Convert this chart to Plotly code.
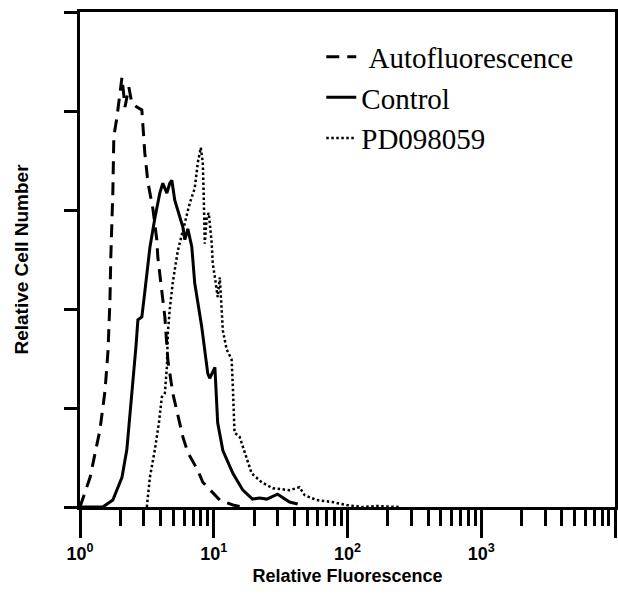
import plotly.graph_objects as go

# ---- data ----
auto_x = [1.0, 1.19, 1.41, 1.54, 1.62, 1.675, 1.70, 1.76, 1.79, 1.89, 1.99, 2.06, 2.17, 2.32,
          2.44, 2.66, 2.90, 2.95, 3.05, 3.22, 3.51, 3.75, 3.82, 4.31, 4.54, 4.94, 5.29, 5.87,
          6.40, 7.60, 8.28, 11.1, 13.9, 16.5]
auto_y = [0.0, 0.30, 0.78, 1.18, 1.58, 2.09, 2.53, 3.18, 3.74, 3.94, 4.18, 4.34, 4.04, 4.24,
          4.08, 4.04, 4.01, 3.84, 3.58, 3.28, 3.01, 2.70, 2.52, 1.92, 1.48, 1.15, 0.98, 0.71,
          0.55, 0.37, 0.25, 0.07, 0.02, 0.0]

ctrl_x = [1.0, 1.48, 1.76, 2.06, 2.24, 2.36, 2.49, 2.62, 2.71, 2.90, 3.05, 3.22, 3.33, 3.63,
          3.95, 4.16, 4.46, 4.69, 4.86, 5.11, 5.39, 5.87, 6.08, 6.40, 6.85, 7.21, 8.13, 9.02,
          9.33, 10.2, 10.7, 11.7, 13.9, 16.5, 19.5, 22.0, 24.9, 30.0, 36.9, 42.4]
ctrl_y = [0.0, 0.0, 0.07, 0.30, 0.58, 0.91, 1.25, 1.62, 1.89, 1.92, 2.17, 2.44, 2.62, 2.92,
          3.17, 3.27, 3.17, 3.27, 3.30, 3.10, 3.00, 2.83, 2.70, 2.81, 2.63, 2.26, 1.82, 1.35,
          1.30, 1.41, 0.85, 0.57, 0.34, 0.17, 0.08, 0.09, 0.08, 0.13, 0.05, 0.03]

pd_x = [3.16, 3.33, 3.63, 3.89, 4.09, 4.31, 4.46, 4.54, 4.69, 4.94, 5.39, 5.87, 6.62, 7.21,
        7.60, 8.00, 8.28, 8.42, 8.57, 8.87, 9.18, 9.66, 9.83, 10.2, 10.7, 11.1, 11.5, 11.7,
        12.5, 13.6, 13.9, 14.3, 15.6, 17.0, 19.2, 22.8, 27.6, 36.9, 43.8, 47.8, 58.7, 77.3,
        98.4, 129, 165, 244]
pd_y = [0.0, 0.30, 0.58, 0.85, 1.11, 1.15, 1.41, 1.76, 2.00, 2.27, 2.59, 2.80, 3.07, 3.22,
        3.48, 3.63, 3.48, 3.13, 2.66, 2.93, 2.97, 2.66, 2.46, 2.32, 2.12, 2.32, 1.95, 1.78,
        1.59, 1.49, 1.21, 0.75, 0.71, 0.55, 0.34, 0.25, 0.19, 0.17, 0.20, 0.12, 0.07, 0.05,
        0.02, 0.0, 0.01, 0.0]

x_tickvals = [1, 10, 100, 1000, 10000]
x_ticktext = ["10<sup>0</sup>", "10<sup>1</sup>", "10<sup>2</sup>", "10<sup>3</sup>", " "]
series_names = ["\u00a0Autofluorescence", "Control", "PD098059"]

# ---- figure ----
fig = go.Figure()
fig.add_trace(go.Scatter(x=auto_x, y=auto_y, mode="lines", name=series_names[0],
                         legendgroup="a",
                         line=dict(color="black", width=3, dash="13px,8px")))
fig.add_trace(go.Scatter(x=ctrl_x, y=ctrl_y, mode="lines", name=series_names[1],
                         legendgroup="b",
                         line=dict(color="black", width=3)))
fig.add_trace(go.Scatter(x=pd_x, y=pd_y, mode="lines", name=series_names[2],
                         legendgroup="c",
                         line=dict(color="black", width=2.5, dash="2.5px,2.5px")))

axis_font = "Arial, Liberation Sans, sans-serif"

fig.update_layout(
    width=618, height=594,
    margin=dict(l=80, r=3, t=12, b=87),
    paper_bgcolor="white", plot_bgcolor="white",
    showlegend=True,
    legend=dict(x=0.451, y=0.961, xanchor="left", yanchor="top",
                font=dict(family="Liberation Serif, Times New Roman, serif", size=29, color="black"),
                bgcolor="rgba(0,0,0,0)", tracegroupgap=0),
    xaxis=dict(
        type="log", range=[0, 4], automargin=False,
        tickvals=x_tickvals, ticktext=x_ticktext,
        ticks="outside", ticklen=28, tickwidth=3, tickcolor="black",
        showline=True, linewidth=3, linecolor="black", mirror=True,
        showgrid=False, zeroline=False,
        minor=dict(ticks="outside", ticklen=16, tickwidth=3, tickcolor="black",
                   dtick="D1", showgrid=False),
        tickfont=dict(family=axis_font, size=18, color="black", weight="bold"),
        title=dict(text="Relative Fluorescence", standoff=7,
                   font=dict(family=axis_font, size=18, color="black", weight="bold")),
    ),
    yaxis=dict(
        range=[0, 5], dtick=1, tick0=0, automargin=False,
        ticks="outside", ticklen=13, tickwidth=3, tickcolor="black",
        showticklabels=False,
        showline=True, linewidth=3, linecolor="black", mirror=True,
        showgrid=False, zeroline=False,
        title=dict(text="Relative Cell Number", standoff=31,
                   font=dict(family=axis_font, size=19, color="black", weight="bold")),
    ),
)

page_fix = (
    "document.body.style.margin='0px';"
    "document.body.style.padding='0px';"
    "document.body.style.overflow='hidden';"
    "var gd=document.getElementById('{plot_id}');"
    "gd.style.width='618px';gd.style.height='594px';"
    "Plotly.relayout(gd,{width:618,height:594});"
)

fig.write_html("out.html", config={"responsive": False, "displayModeBar": False},
               post_script=page_fix)
